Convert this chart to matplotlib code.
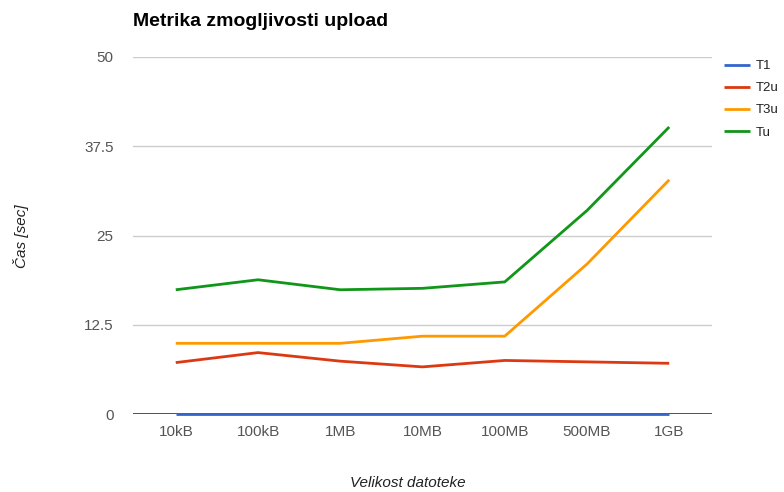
import matplotlib
matplotlib.use("Agg")
import matplotlib.pyplot as plt

# upload timings per file size
sizes = ["10kB", "100kB", "1MB", "10MB", "100MB", "500MB", "1GB"]
t1 = [0, 0, 0, 0, 0, 0, 0]
t2u = [7.2, 8.6, 7.4, 6.6, 7.5, 7.3, 7.1]
t3u = [9.9, 9.9, 9.9, 10.9, 10.9, 21.0, 32.8]
tu = [17.4, 18.8, 17.4, 17.6, 18.5, 28.5, 40.2]
yticks = [0, 12.5, 25, 37.5, 50]
yticklabels = ["0", "12.5", "25", "37.5", "50"]

series = [
    ("T1", t1, "#3366cc"),
    ("T2u", t2u, "#dc3912"),
    ("T3u", t3u, "#ff9900"),
    ("Tu", tu, "#109618"),
]

plt.rcParams["font.family"] = ["Liberation Sans", "DejaVu Sans"]

fig = plt.figure(figsize=(7.84, 4.92), dpi=100)
ax = fig.add_axes([133 / 784, 1 - 414 / 492, 579 / 784, 357 / 492])

x = list(range(len(sizes)))
for name, vals, col in series:
    ax.plot(x, vals, color=col, lw=2, label=name, zorder=3,
            solid_capstyle="butt", clip_on=False)

ax.set_xlim(-0.52, len(sizes) - 1 + 0.52)
ax.set_ylim(0, 50)
ax.set_yticks(yticks)
ax.set_yticklabels(yticklabels)
ax.set_xticks(x)
ax.set_xticklabels(sizes)

for v in yticks[1:]:
    ax.axhline(v, color="#cccccc", lw=1, zorder=1)
ax.axhline(0, color="#333333", lw=1.2, zorder=2)

for s in ax.spines.values():
    s.set_visible(False)
ax.tick_params(length=0, labelsize=11, colors="#555555")
ax.tick_params(axis="y", pad=14)
ax.tick_params(axis="x", pad=8)

fig.text(133 / 784, 1 - 21 / 492, "Metrika zmogljivosti upload", fontsize=14,
         fontweight="bold", color="#000000", va="center", ha="left")
fig.text(21 / 784, 1 - 236 / 492, "Čas [sec]", fontsize=11, style="italic",
         color="#222222", rotation=90, va="center", ha="center")
fig.text(408 / 784, 1 - 483 / 492, "Velikost datoteke", fontsize=11, style="italic",
         color="#222222", va="center", ha="center")

ax.legend(loc="upper left", bbox_to_anchor=(1.0, 1.025), frameon=False,
          fontsize=9.5, handlelength=2.0, handletextpad=0.4, labelspacing=0.75,
          labelcolor="#222222")

fig.savefig("out.png", dpi=100)
